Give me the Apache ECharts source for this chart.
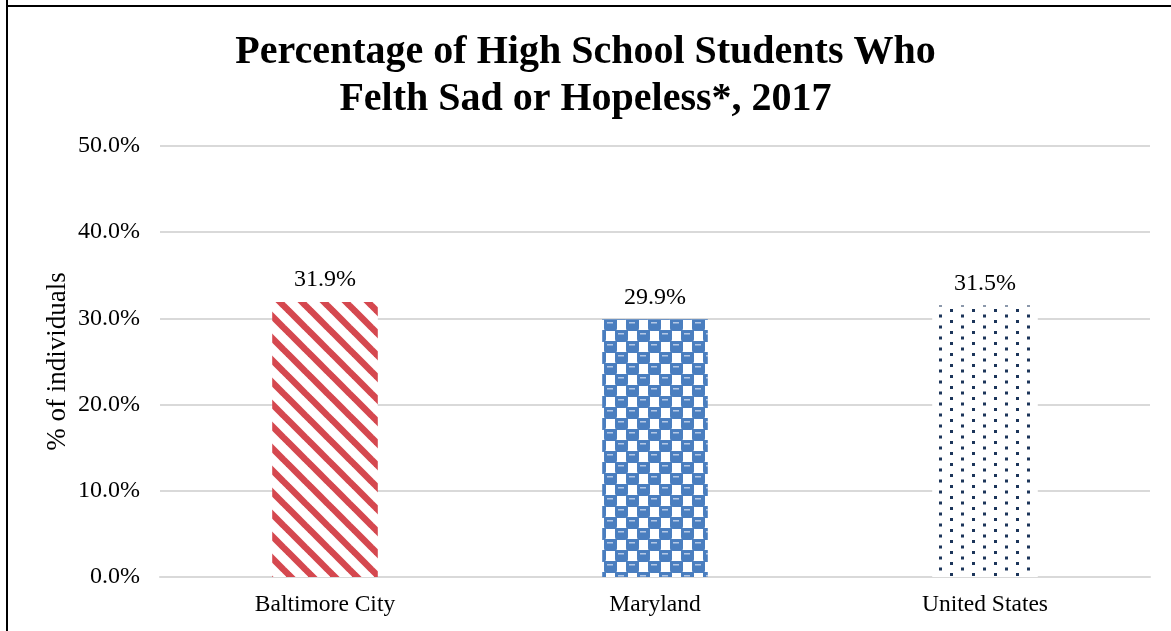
<!DOCTYPE html>
<html>
<head>
<meta charset="utf-8">
<script src="https://cdn.jsdelivr.net/npm/echarts@6/dist/echarts.min.js"></script>
<style>
html,body{margin:0;padding:0;background:#fff;}
#chart{width:1171px;height:631px;}
</style>
</head>
<body>
<div id="chart"></div>
<script>
const categories = ['Baltimore City', 'Maryland', 'United States'];
const values = [31.9, 29.9, 31.5];
const yTicks = [0, 10, 20, 30, 40, 50];
const titleText = 'Percentage of High School Students Who\nFelth Sad or Hopeless*, 2017';
const yAxisName = '% of individuals';

function stripes() {
  const c = document.createElement('canvas'); c.width = 22; c.height = 22;
  const g = c.getContext('2d');
  g.fillStyle = '#fff'; g.fillRect(0, 0, 22, 22);
  g.strokeStyle = '#D5484F'; g.lineWidth = 6.5;
  for (const o of [-22, 0, 22]) {
    g.beginPath(); g.moveTo(o - 2, -2); g.lineTo(o + 24, 24); g.stroke();
  }
  return c;
}
function checker() {
  const c = document.createElement('canvas'); c.width = 22; c.height = 22;
  const g = c.getContext('2d');
  g.fillStyle = '#fff'; g.fillRect(0, 0, 22, 22);
  const blue = '#4A7EBF';
  function cell(x, y) {
    g.fillStyle = blue;
    g.beginPath();
    g.moveTo(x - 1, y); g.lineTo(x + 12, y); g.lineTo(x + 12, y + 9);
    g.quadraticCurveTo(x + 12, y + 12, x + 9, y + 12);
    g.lineTo(x + 2, y + 12); g.quadraticCurveTo(x - 1, y + 12, x - 1, y + 9);
    g.closePath(); g.fill();
    g.fillStyle = '#B4C8E6';
    g.fillRect(x + 2, y + 3, 6, 1.5);
  }
  cell(0, 0); cell(11, 11); cell(22, 0); cell(-11, 11); cell(11, -11);
  return c;
}
function dots() {
  const c = document.createElement('canvas'); c.width = 22; c.height = 11;
  const g = c.getContext('2d');
  g.fillStyle = '#fff'; g.fillRect(0, 0, 22, 11);
  g.fillStyle = '#1C355A';
  g.fillRect(4, 1, 3, 3);
  g.fillRect(15, 6.5, 3, 3);
  return c;
}
const patterns = [stripes(), checker(), dots()];

const chart = echarts.init(document.getElementById('chart'), null, {renderer: 'canvas'});
chart.setOption({
  animation: false,
  backgroundColor: '#fff',
  title: {
    text: titleText,
    left: 'center',
    top: 24,
    textStyle: {fontFamily: 'Liberation Serif', fontWeight: 'bold', fontSize: 40, color: '#000', lineHeight: 47}
  },
  graphic: [
    {type: 'line', shape: {x1: 7, y1: 0, x2: 7, y2: 640}, style: {stroke: '#000', lineWidth: 2}},
    {type: 'line', shape: {x1: 6, y1: 6, x2: 1180, y2: 6}, style: {stroke: '#000', lineWidth: 2}}
  ],
  grid: {left: 160, right: 21, top: 146, bottom: 54},
  xAxis: {
    type: 'category',
    data: categories,
    axisLine: {show: true, lineStyle: {color: '#D9D9D9', width: 2}},
    axisTick: {show: false},
    axisLabel: {fontFamily: 'Liberation Serif', fontSize: 23.5, color: '#000', margin: 16}
  },
  yAxis: {
    type: 'value',
    min: 0, max: 50, interval: 10,
    name: yAxisName,
    nameLocation: 'middle',
    nameMoveOverlap: false,
    nameGap: 89,
    nameTextStyle: {fontFamily: 'Liberation Serif', fontSize: 27, color: '#000'},
    axisLine: {show: false},
    axisTick: {show: false},
    splitLine: {lineStyle: {color: '#D9D9D9', width: 2}},
    axisLabel: {
      fontFamily: 'Liberation Serif', fontSize: 24, color: '#000', margin: 20,
      formatter: v => yTicks.includes(v) ? v.toFixed(1) + '%' : ''
    }
  },
  series: [{
    type: 'bar',
    barWidth: '32%',
    data: values.map((v, i) => ({value: v, itemStyle: {color: {image: patterns[i], repeat: 'repeat'}}})),
    label: {
      show: true, position: 'top', distance: 10,
      fontFamily: 'Liberation Serif', fontSize: 24, color: '#000',
      formatter: p => p.value.toFixed(1) + '%'
    }
  }]
});
</script>
</body>
</html>
